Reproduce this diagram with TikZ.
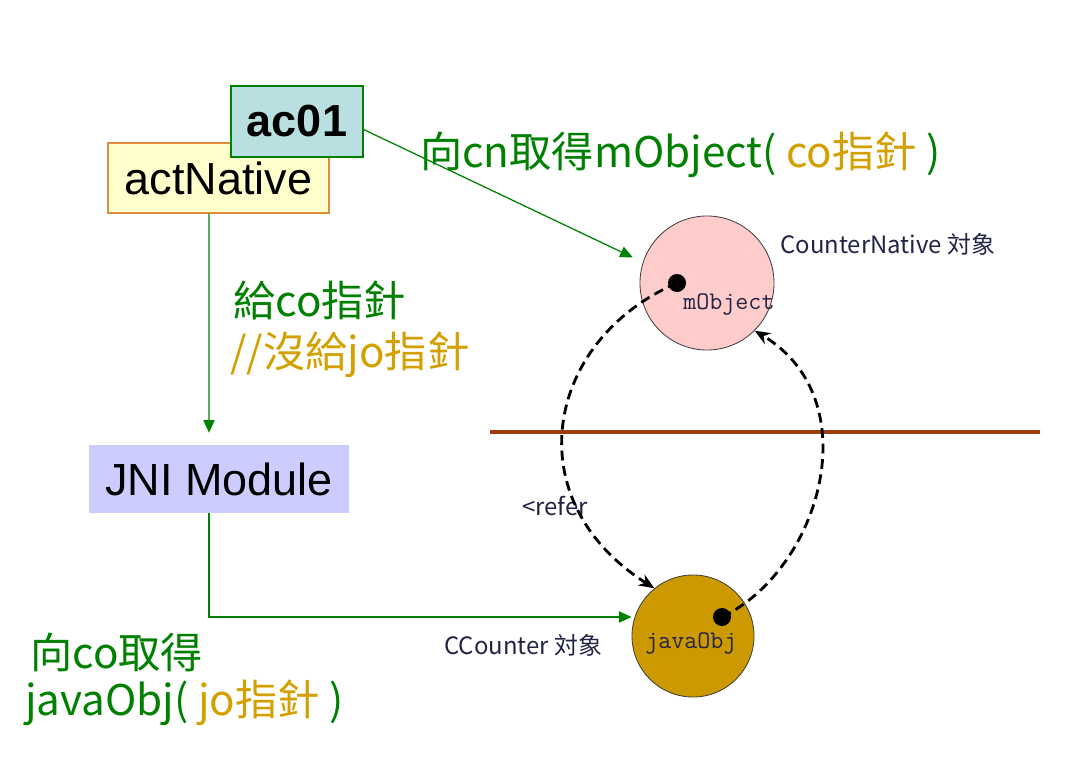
\documentclass[tikz,border=0pt]{standalone}
\usepackage{fontspec}
\setmainfont{Liberation Sans}
\newfontfamily\cjk{Noto Sans CJK TC}
\usepackage{xcolor}
\usetikzlibrary{positioning, arrows.meta, calc}

\definecolor{jgreen}{RGB}{0,128,0}
\definecolor{goldtxt}{RGB}{212,160,0}
\definecolor{goldfill}{RGB}{204,153,0}
\definecolor{pinkfill}{RGB}{255,204,204}
\definecolor{tealfill}{RGB}{185,223,224}
\definecolor{yellowfill}{RGB}{255,255,204}
\definecolor{orangeline}{RGB}{220,140,60}
\definecolor{jnifill}{RGB}{204,204,255}
\definecolor{brownline}{RGB}{160,60,10}
\definecolor{smalltxt}{RGB}{35,35,70}

\tikzset{
    actbox/.style={draw=orangeline, fill=yellowfill, line width=0.8pt, inner sep=0pt,
        minimum width=5.525cm, minimum height=1.75cm, font=\fontsize{32}{38}\selectfont},
    acbox/.style={draw=jgreen, fill=tealfill, line width=0.8pt, inner sep=0pt,
        minimum width=3.3cm, minimum height=1.775cm, font=\bfseries\fontsize{32}{38}\selectfont},
    jnibox/.style={fill=jnifill, inner sep=0pt,
        minimum width=6.5cm, minimum height=1.7cm, font=\fontsize{32}{38}\selectfont},
    objcircle/.style={circle, draw=black!75, line width=0.6pt, inner sep=0pt},
    ptrdot/.style={circle, fill=black, inner sep=0pt, minimum size=0.45cm},
    biglabel/.style={anchor=west, inner sep=0pt, text=jgreen, font=\cjk\fontsize{30}{36}\selectfont},
    smalllabel/.style={anchor=west, inner sep=0pt, text=smalltxt, font=\cjk\fontsize{17}{20}\selectfont},
    ptrlabel/.style={anchor=west, inner sep=0pt, text=smalltxt, font=\ttfamily\fontsize{18}{21}\selectfont},
    greenarrow/.style={draw=jgreen, line width=0.9pt, -{Triangle[length=9pt, width=8pt]}},
    refarrow/.style={dash pattern=on 7pt off 4pt, line width=2pt, -{Stealth[length=11pt, width=9pt]}}
}

\begin{document}
\begin{tikzpicture}[x=0.025cm, y=-0.025cm]
    \useasboundingbox (0,0) rectangle (1076,768);

    \node[actbox] (actnative) at (218.5,178) {actNative};
    \node[acbox] (ac01) at (297,121.5) {ac01};
    \node[jnibox] (jni) at (219,479) {JNI Module};

    \node[objcircle, fill=pinkfill, minimum size=3.35cm] (cn) at (707,283) {};
    \node[objcircle, fill=goldfill, minimum size=3.05cm] (co) at (693,636) {};

    \draw[brownline, line width=2.6pt] (490,432) -- (1040,432);

    \node[ptrdot] (mdot) at (677,283) {};
    \node[ptrdot] (jdot) at (722,617) {};
    \node[ptrlabel] (mobj) at (683,304) {mObject};
    \node[ptrlabel] (jobj) at (645,643) {javaObj};

    \node[smalllabel] (cnlabel) at (780,244) {CounterNative 対象};
    \node[smalllabel] (colabel) at (444,645) {CCounter 対象};
    \node[smalllabel] (refer) at (522,506) {<refer};

    \node[biglabel] (getmobj) at (420,155) {向cn取得mObject( {\color{goldtxt}co指針} )};
    \node[biglabel] (giveco) at (233,300) {給co指針};
    \node[biglabel, text=goldtxt] (nojo) at (230,355) {//沒給jo指針};
    \node[biglabel] (getco) at (30,652) {向co取得};
    \node[biglabel] (getjobj) at (25,703) {javaObj( {\color{goldtxt}jo指針} )};

    \draw[greenarrow, shorten >=0.3cm] ([xshift=-0.24cm]actnative.south) -- ([xshift=-0.25cm]jni.north);
    \draw[greenarrow] ([xshift=-0.25cm]jni.south) |- ([yshift=0.475cm]co.west);
    \draw[greenarrow, shorten >=0.28cm] ([yshift=-0.2cm]ac01.east) -- (cn.162);

    \draw[refarrow] (mdot.center) .. controls (545,340) and (515,500) .. (co.129);
    \draw[refarrow] (jdot.center) .. controls (820,570) and (870,400) .. (cn.-45);
\end{tikzpicture}
\end{document}
